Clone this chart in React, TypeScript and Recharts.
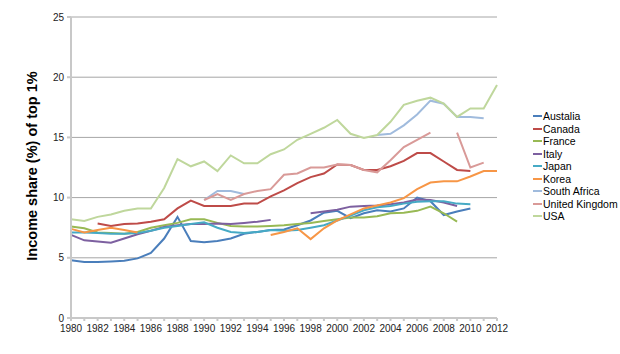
import { CartesianGrid, Legend, Line, LineChart, XAxis, YAxis } from 'recharts'

const years = [
  1980, 1981, 1982, 1983, 1984, 1985, 1986, 1987, 1988, 1989, 1990, 1991, 1992, 1993, 1994, 1995, 1996,
  1997, 1998, 1999, 2000, 2001, 2002, 2003, 2004, 2005, 2006, 2007, 2008, 2009, 2010, 2011, 2012,
]

const australia = [
  4.8, 4.65, 4.65, 4.7, 4.75, 4.95, 5.4, 6.6, 8.4, 6.4, 6.3, 6.4, 6.6, 7.0, 7.15, 7.3, 7.35, 7.7, 8.1, 8.75,
  8.9, 8.3, 8.7, 8.95, 8.85, 9.1, 10.0, 9.7, 8.55, 8.85, 9.1, null, null,
]
const canada = [
  null, null, 7.85, 7.65, 7.8, 7.85, 8.0, 8.2, 9.1, 9.75, 9.3, 9.3, 9.3, 9.5, 9.5, 10.1, 10.6, 11.2, 11.7,
  12.0, 12.75, 12.7, 12.3, 12.3, 12.6, 13.05, 13.7, 13.7, 13.0, 12.3, 12.2, null, null,
]
const france = [
  7.6, 7.45, 7.1, 7.05, 7.0, 7.15, 7.5, 7.7, 7.9, 8.2, 8.2, 7.9, 7.65, 7.6, 7.6, 7.65, 7.7, 7.8, 7.9, 8.05,
  8.2, 8.35, 8.35, 8.45, 8.7, 8.75, 8.9, 9.25, 8.7, 8.0, null, null, null,
]
const italy = [
  6.9, 6.45, 6.35, 6.25, 6.6, 6.95, 7.25, 7.55, 7.7, 7.8, 7.8, 7.85, 7.8, 7.9, 8.0, 8.15, null, null, 8.7,
  8.85, 9.0, 9.25, 9.3, 9.35, 9.45, 9.6, 9.85, 9.8, 9.6, 9.3, null, null, null,
]
const japan = [
  7.1, 7.1, 7.05, 7.0, 7.0, 7.05, 7.25, 7.5, 7.65, 7.8, 7.95, 7.5, 7.15, 7.05, 7.15, 7.3, 7.25, 7.3, 7.5,
  7.7, 8.1, 8.5, 8.95, 9.2, 9.3, 9.5, 9.65, 9.7, 9.7, 9.5, 9.45, null, null,
]
const korea = [
  7.4, 7.1, 7.3, 7.5, 7.3, 7.1, null, null, null, null, null, null, null, null, null, 6.9, 7.15, 7.45, 6.55,
  7.45, 8.1, 8.6, 9.1, 9.35, 9.6, 9.95, 10.7, 11.25, 11.35, 11.35, 11.75, 12.2, 12.2,
]
const southAfrica = [
  null, null, null, null, null, null, null, null, null, null, 9.8, 10.55, 10.55, 10.3, null, null, null, null,
  null, null, null, null, null, 15.2, 15.3, 16.0, 16.9, 18.05, 17.8, 16.7, 16.7, 16.6, null,
]
const unitedKingdom = [
  null, null, null, null, null, null, null, null, null, null, 9.8, 10.3, 9.8, 10.3, 10.55, 10.7, 11.9, 12.0,
  12.5, 12.5, 12.75, 12.7, 12.3, 12.1, 13.1, 14.2, 14.8, 15.4, null, 15.4, 12.5, 12.9, null,
]
const usa = [
  8.2, 8.05, 8.4, 8.6, 8.9, 9.1, 9.1, 10.8, 13.2, 12.6, 13.0, 12.2, 13.5, 12.85, 12.85, 13.6, 14.0, 14.8,
  15.3, 15.8, 16.45, 15.3, 14.95, 15.2, 16.3, 17.7, 18.05, 18.3, 17.8, 16.7, 17.4, 17.4, 19.35,
]

const yTicks = [0, 5, 10, 15, 20, 25]

const series = [
  { key: 'Austalia', values: australia, color: '#4A7EBB' },
  { key: 'Canada', values: canada, color: '#BE4B48' },
  { key: 'France', values: france, color: '#98B954' },
  { key: 'Italy', values: italy, color: '#7D60A0' },
  { key: 'Japan', values: japan, color: '#46AAC5' },
  { key: 'Korea', values: korea, color: '#F79646' },
  { key: 'South Africa', values: southAfrica, color: '#A0BBDD' },
  { key: 'United Kingdom', values: unitedKingdom, color: '#D99A98' },
  { key: 'USA', values: usa, color: '#BFD79C' },
]

const data = years.map((year, i) => {
  const row: Record<string, number | null> = { year }
  series.forEach((s) => {
    row[s.key] = s.values[i]
  })
  return row
})

const font = '"Liberation Sans", Arial, sans-serif'

function LegendBox() {
  return (
    <div style={{ fontFamily: font, fontSize: 10.5, color: '#000' }}>
      {series.map((s) => (
        <div key={s.key} style={{ display: 'flex', alignItems: 'center', height: 12.5, whiteSpace: 'nowrap' }}>
          <span style={{ display: 'inline-block', width: 9, height: 2, background: s.color, marginRight: 1 }} />
          {s.key}
        </div>
      ))}
    </div>
  )
}

function AxisTitle() {
  return (
    <text
      x={32}
      y={166}
      transform="rotate(-90, 32, 166)"
      textAnchor="middle"
      dominantBaseline="central"
      fontFamily={font}
      fontWeight="bold"
      fontSize={14.5}
      fill="#000"
    >
      Income share (%) of top 1%
    </text>
  )
}

export default function App() {
  return (
    <div style={{ position: 'absolute', left: 0, top: 0, background: '#fff' }}>
      <LineChart width={620} height={354} data={data} margin={{ top: 17, right: 36, left: 41, bottom: 16 }}>
        <CartesianGrid vertical={false} stroke="#a6a6a6" strokeWidth={1} />
        <XAxis
          dataKey="year"
          type="number"
          domain={[1980, 2012]}
          ticks={years}
          interval={0}
          tickFormatter={(v: number) => (v % 2 === 0 ? String(v) : '')}
          tick={{ fontSize: 10, fill: '#222', fontFamily: font }}
          tickSize={3}
          tickMargin={4}
          stroke="#c8c8c8"
          strokeWidth={2}
          height={20}
        />
        <YAxis
          domain={[0, 25]}
          ticks={yTicks}
          interval={0}
          tick={{ fontSize: 10, fill: '#222', fontFamily: font }}
          tickSize={4}
          tickMargin={3}
          stroke="#c8c8c8"
          strokeWidth={2}
          width={30}
          label={{ content: () => <AxisTitle /> }}
        />
        <Legend
          layout="vertical"
          align="right"
          verticalAlign="middle"
          content={() => <LegendBox />}
          wrapperStyle={{ left: 533, top: 110, width: 87 }}
        />
        {series.map((s) => (
          <Line
            key={s.key}
            type="linear"
            dataKey={s.key}
            stroke={s.color}
            strokeWidth={2}
            dot={false}
            connectNulls={false}
            isAnimationActive={false}
          />
        ))}
      </LineChart>
    </div>
  )
}
